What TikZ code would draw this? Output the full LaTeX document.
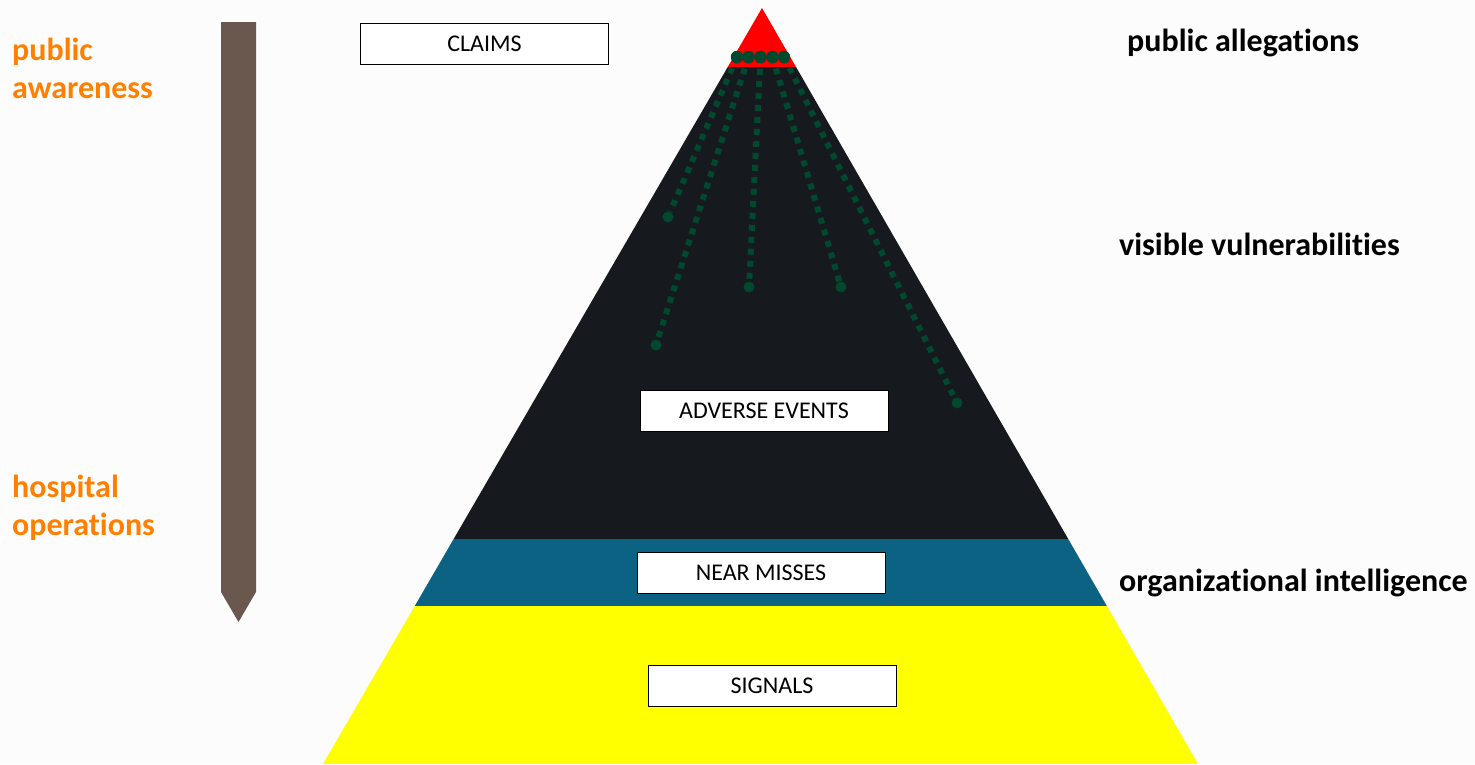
\documentclass[tikz,border=0pt]{standalone}
\usepackage{fontspec}
\setmainfont{Carlito}[Ligatures={NoCommon}]
\definecolor{pyrblack}{RGB}{22,25,30}
\definecolor{pyrblue}{RGB}{11,98,131}
\definecolor{pyryellow}{RGB}{255,255,0}
\definecolor{dotgreen}{RGB}{0,72,46}
\definecolor{arrowbrown}{RGB}{106,88,78}
\definecolor{orangetxt}{RGB}{255,128,0}
\begin{document}
\begin{tikzpicture}[x=1pt,y=-1pt,
  lbox/.style={draw=black,line width=0.8pt,fill=white,minimum width=248pt,minimum height=41pt,inner sep=0pt,font=\fontsize{24}{26}\selectfont},
  rlabel/.style={anchor=west,font=\bfseries\fontsize{32}{36}\selectfont,text=black,inner sep=0pt},
  llabel/.style={anchor=west,align=left,font=\bfseries\fontsize{32}{38}\selectfont,text=orangetxt,inner sep=0pt},
  bigdot/.style={circle,fill=dotgreen,inner sep=0pt,minimum size=12.5pt},
  enddot/.style={circle,fill=dotgreen,inner sep=0pt,minimum size=11pt},
  dotline/.style={draw=dotgreen,line width=6pt,dash pattern=on 6pt off 6pt}]
\useasboundingbox (0,0) rectangle (1475,764);
\fill[white!99!black] (0,0) rectangle (1475,764);
% pyramid
\begin{scope}
\clip (762,8) -- (1198,764) -- (323,764) -- cycle;
\fill[red] (300,0) rectangle (1200,67);
\fill[pyrblack] (300,67) rectangle (1200,539);
\fill[pyrblue] (300,539) rectangle (1200,606);
\fill[pyryellow] (300,606) rectangle (1200,764);
\end{scope}
% arrow
\fill[arrowbrown] (221,22) -- (256,22) -- (256,592) -- (238.5,622) -- (221,592) -- cycle;
% boxes
\node[lbox] (claims) at (484.5,44) {CLAIMS};
\node[lbox] (adverse) at (764,411) {ADVERSE EVENTS};
\node[lbox] (near) at (761,573) {NEAR MISSES};
\node[lbox] (signals) at (772,686) {SIGNALS};
% dotted lines
\coordinate (t1) at (737,57);
\coordinate (t2) at (748.5,57);
\coordinate (t3) at (760.5,57);
\coordinate (t4) at (772.5,57);
\coordinate (t5) at (784,57);
\node[enddot] (e1) at (668,217) {};
\node[enddot] (e2) at (656,345) {};
\node[enddot] (e3) at (749,287) {};
\node[enddot] (e4) at (841,287) {};
\node[enddot] (e5) at (957,403) {};
\draw[dotline] (t1) -- (e1);
\draw[dotline] (t2) -- (e2);
\draw[dotline] (t3) -- (e3);
\draw[dotline] (t4) -- (e4);
\draw[dotline] (t5) -- (e5);
\node[bigdot] (d1) at (t1) {};
\node[bigdot] (d2) at (t2) {};
\node[bigdot] (d3) at (t3) {};
\node[bigdot] (d4) at (t4) {};
\node[bigdot] (d5) at (t5) {};
% right labels
\node[rlabel] (pa) at (1127,43) {public allegations};
\node[rlabel] (vv) at (1119,244) {visible vulnerabilities};
\node[rlabel] (oi) at (1119,583) {organizational intelligence};
% left labels
\node[llabel] (pub) at (12,68) {public\\awareness};
\node[llabel] (hosp) at (12,508) {hospital\\operations};
\end{tikzpicture}
\end{document}
